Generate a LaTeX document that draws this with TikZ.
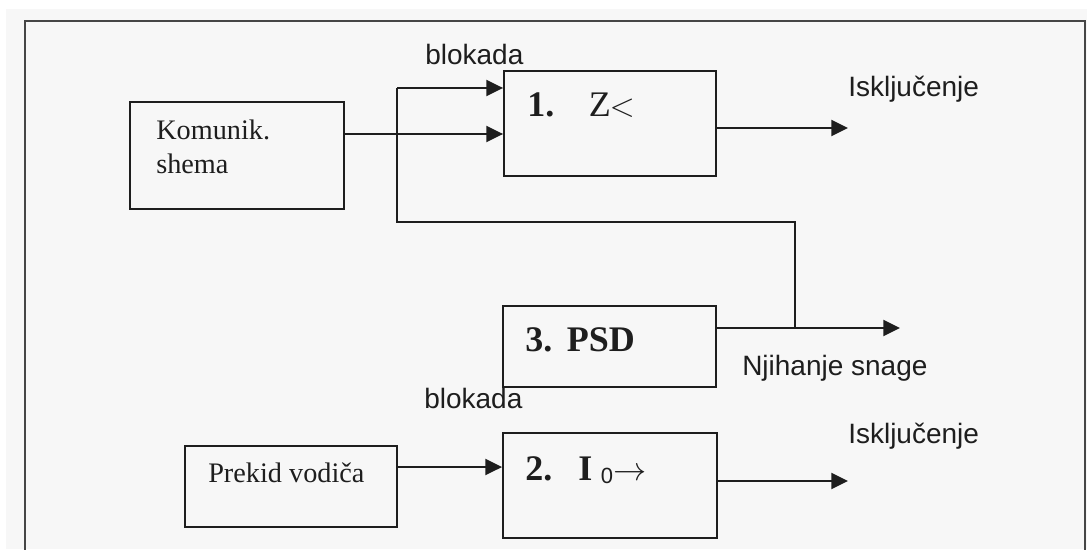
\documentclass[tikz,border=0pt]{standalone}
\usepackage{fontspec}
\setmainfont{Liberation Serif}
\newfontfamily\labelsans{Liberation Sans}
\usetikzlibrary{arrows.meta}
\definecolor{paper}{HTML}{F7F7F7}
\definecolor{ink}{HTML}{1E1E1E}
\definecolor{framecol}{HTML}{464646}
\begin{document}
\begin{tikzpicture}[x=0.75pt,y=-0.75pt,
  blockbox/.style={draw=ink, line width=1.4pt, fill=paper, inner sep=0pt, minimum width=#1},
  blockbox/.default=160pt,
  sig/.style={draw=ink, line width=1.5pt},
  sigarrow/.style={sig, -{Triangle[length=12.5pt,width=12pt]}},
  note/.style={font=\labelsans\fontsize{21}{25}\selectfont, text=ink, inner sep=0pt, anchor=base west},
  boxtext/.style={font=\fontsize{21.2}{25}\selectfont, text=ink, inner sep=0pt, anchor=base west},
  tag/.style={font=\fontsize{27}{30}\selectfont, text=ink, inner sep=0pt, anchor=base west}]

% page and outer frame
\fill[white] (0,0) rectangle (1087,549);
\fill[paper] (6,9) rectangle (1087,549);
\useasboundingbox (0,0) rectangle (1087,549);
\draw[framecol, line width=1.6pt] (25,552) -- (25,21) -- (1085,21) -- (1085,552);

% blocks
\node[blockbox=160.5pt, minimum height=80.25pt] (kom) at (237,155.5) {};
\node[blockbox=159pt,   minimum height=78.75pt] (dist) at (610,123.5) {};
\node[blockbox=159.75pt,minimum height=60.75pt] (psd) at (609.5,346.5) {};
\node[blockbox=159pt,   minimum height=60.75pt] (prek) at (291,486.5) {};
\node[blockbox=160.5pt, minimum height=78.75pt] (zero) at (610,485.5) {};

% texts inside the blocks
\node[boxtext] (komA) at (156,139) {Komunik.};
\node[boxtext] (komB) at (156,173) {shema};
\node[boxtext] (prekT) at (208,482) {Prekid vodiča};
\node[tag] (distT) at (527,117) {\textbf{1.}\hspace{26pt}Z\hspace{-1pt}\raisebox{0.5pt}{\fontsize{24}{26}\selectfont$<$}};
\node[tag] (psdT) at (525,351) {\textbf{3.}\hspace{11pt}\textbf{PSD}};
\node[tag] (zeroT) at (525,480) {\textbf{2.}\hspace{19.5pt}\textbf{I}\hspace{6.5pt}\raisebox{-2.5pt}{\labelsans\fontsize{16.5}{18}\selectfont 0}\fontsize{24}{26}\selectfont$\rightarrow$};

% free labels
\node[note] (blkA) at (425,65) {blokada};
\node[note] (blkB) at (424,408) {blokada};
\node[note] (iskA) at (848,97) {Isključenje};
\node[note] (iskB) at (848,443) {Isključenje};
\node[note] (njih) at (742,375) {Njihanje snage};

% junction points of the blocking line
\coordinate (jPsd) at (795,328);
\coordinate (jTop) at (795,222);
\coordinate (jLeft) at (397,222);
\coordinate (jUp) at (397,88);
\coordinate (outA) at (848,128);
\coordinate (outB) at (848,481);
\coordinate (outP) at (900,328);

% connectors
\draw[sigarrow] (kom.east |- 0,134) -- (dist.west |- 0,134);
\draw[sigarrow] (dist.east |- outA) -- (outA);
\draw[sigarrow] (psd.east |- outP) -- (outP);
\draw[sig] (jPsd) -- (jTop) -- (jLeft) -- (jUp);
\draw[sigarrow] (jUp) -- (dist.west |- jUp);
\draw[sigarrow] (prek.east |- 0,467) -- (zero.west |- 0,467);
\draw[sigarrow] (zero.east |- outB) -- (outB);
\end{tikzpicture}
\end{document}
